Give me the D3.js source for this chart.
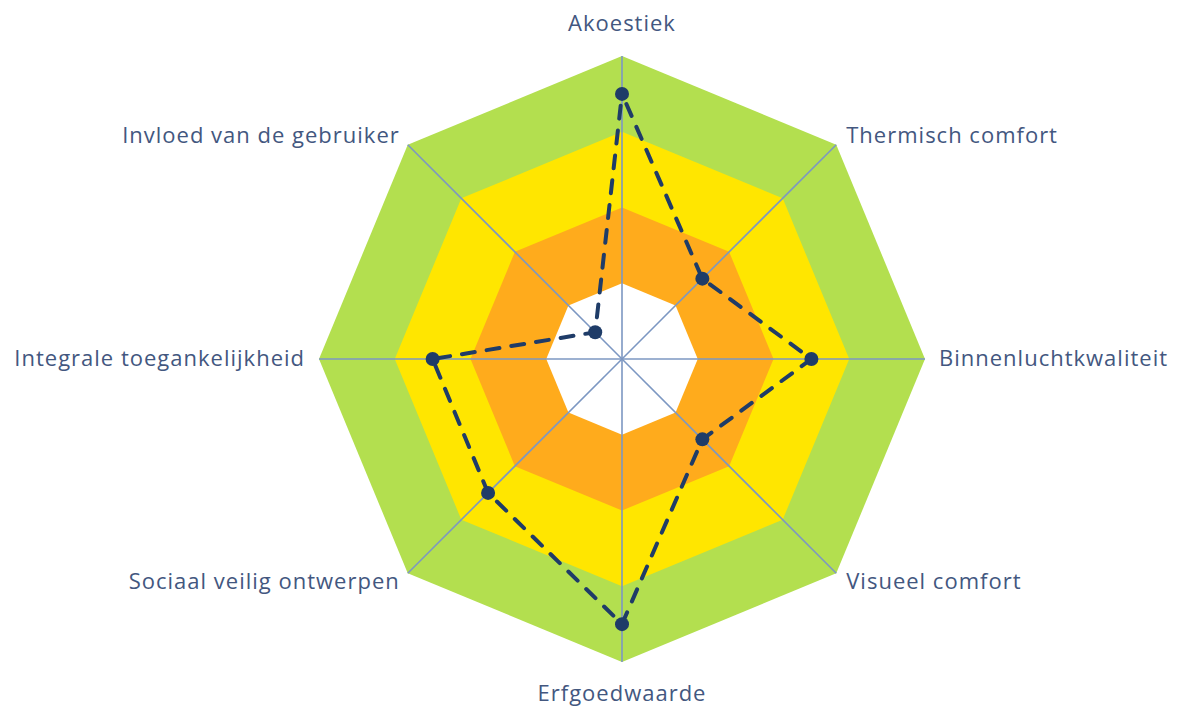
<!DOCTYPE html>
<html>
<head>
<meta charset="utf-8">
<script src="https://cdn.jsdelivr.net/npm/d3@7"></script>
<style>
  body { margin: 0; background: #fff; }
  svg text { font-family: "Open Sans", Lato, sans-serif; }
</style>
</head>
<body>
<svg id="radar" width="1179" height="710"></svg>
<script>
// Axis categories, clockwise from the top
const categories = ["Akoestiek", "Thermisch comfort", "Binnenluchtkwaliteit", "Visueel comfort",
    "Erfgoedwaarde", "Sociaal veilig ontwerpen", "Integrale toegankelijkheid", "Invloed van de gebruiker"];
// Score per category
const scores = [3.5, 1.5, 2.5, 1.5, 3.5, 2.5, 2.5, 0.5];
// Background bands (outer level of each band) and their colours
const bandLevels = [4, 3, 2, 1];
const bandColors = ["#b3df4f", "#ffe600", "#ffab1c", "#ffffff"];

const svg = d3.select("#radar"),
    cx = 622, cy = 359,
    radius = 303;

const r = d3.scaleLinear().domain([0, 4]).range([0, radius]);
const angle = d3.scalePoint().domain(categories).range([0, 2 * Math.PI * (categories.length - 1) / categories.length]);

const g = svg.append("g").attr("transform", `translate(${cx},${cy})`);

// point on an axis at a given value
function pt(cat, v) {
    const a = angle(cat);
    return [r(v) * Math.sin(a), -r(v) * Math.cos(a)];
}

// filled bands
g.selectAll(".band")
    .data(bandLevels)
    .enter().append("polygon")
    .attr("class", "band")
    .attr("points", lv => categories.map(c => pt(c, lv).join(",")).join(" "))
    .style("fill", (lv, i) => bandColors[i]);

// spokes
g.selectAll(".spoke")
    .data(categories)
    .enter().append("line")
    .attr("class", "spoke")
    .attr("x1", 0).attr("y1", 0)
    .attr("x2", c => pt(c, 4)[0])
    .attr("y2", c => pt(c, 4)[1])
    .style("stroke", "#7c97c2")
    .style("stroke-width", 1.6);

// dashed score line
const line = d3.lineRadial()
    .angle(d => angle(d.cat))
    .radius(d => r(d.v))
    .curve(d3.curveLinearClosed);

const pts = categories.map((c, i) => ({ cat: c, v: scores[i] }));

g.append("path")
    .attr("d", line(pts))
    .style("fill", "none")
    .style("stroke", "#1f3c68")
    .style("stroke-width", 4)
    .style("stroke-linecap", "round")
    .style("stroke-dasharray", "13,12")
    .style("stroke-dashoffset", 14);

g.selectAll(".dot")
    .data(pts)
    .enter().append("circle")
    .attr("class", "dot")
    .attr("cx", d => pt(d.cat, d.v)[0])
    .attr("cy", d => pt(d.cat, d.v)[1])
    .attr("r", 7)
    .style("fill", "#1f3c68");

// category labels
g.selectAll(".label")
    .data(categories)
    .enter().append("text")
    .attr("class", "label")
    .attr("x", c => {
        const [x] = pt(c, 4), s = Math.sin(angle(c));
        if (Math.abs(s) < 0.01) return x;
        if (Math.abs(s) > 0.99) return x + (s > 0 ? 14 : -14);
        return x + (s > 0 ? 10 : -8);
    })
    .attr("y", c => {
        const [, y] = pt(c, 4), co = Math.cos(angle(c));
        if (co > 0.9) return y - 25;
        if (co < -0.9) return y + 39;
        if (co > 0.1) return y - 2;
        if (co < -0.1) return y + 16;
        return y + 7;
    })
    .style("text-anchor", c => {
        const s = Math.sin(angle(c));
        return Math.abs(s) < 0.01 ? "middle" : (s > 0 ? "start" : "end");
    })
    .style("font-size", "22px")
    .style("letter-spacing", "1px")
    .style("fill", "#43577f")
    .text(c => c);
</script>
</body>
</html>
